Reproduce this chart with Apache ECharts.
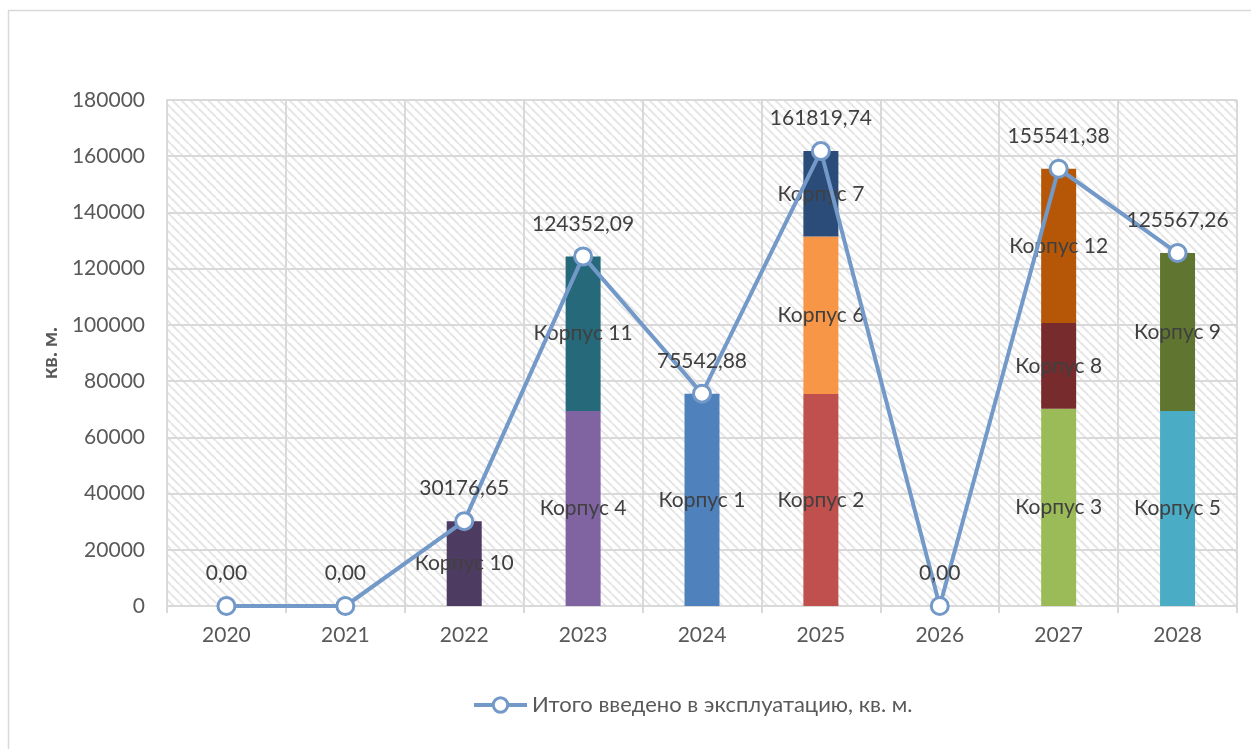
<!DOCTYPE html>
<html>
<head>
<meta charset="utf-8">
<script src="https://cdn.jsdelivr.net/npm/echarts@6/dist/echarts.min.js"></script>
<style>
html,body{margin:0;padding:0;background:#fff;}
#c{width:1251px;height:749px;}
</style>
</head>
<body>
<div id="c"></div>
<script>
// ---- data ----
const years = ['2020','2021','2022','2023','2024','2025','2026','2027','2028'];
const totals = [0, 0, 30176.65, 124352.09, 75542.88, 161819.74, 0, 155541.38, 125567.26];
const lineName = 'Итого введено в эксплуатацию, кв. м.';
// stacked building segments (bottom to top order)
const buildingNames = ['Корпус 10','Корпус 4','Корпус 1','Корпус 2','Корпус 3','Корпус 5',
                       'Корпус 11','Корпус 6','Корпус 8','Корпус 9',
                       'Корпус 7','Корпус 12'];
const buildingYears = ['2022','2023','2024','2025','2027','2028',
                       '2023','2025','2027','2028',
                       '2025','2027'];
const buildingAreas = [30176.65, 69370, 75542.88, 75450, 70200, 69370,
                       54982.09, 55950, 30470, 56197.26,
                       30419.74, 54871.38];
const buildingColors = ['#4D3B62','#8064A2','#4F81BD','#C0504D','#9BBB59','#4BACC6',
                        '#25697A','#F79646','#772B2C','#5F7530',
                        '#2B4C78','#B65708'];
const yTicks = {min:0, max:180000, interval:20000};

// ---- hatch pattern ----
const T = 9;
const pc = document.createElement('canvas');
pc.width = T; pc.height = T;
const ctx = pc.getContext('2d');
ctx.fillStyle = '#ffffff';
ctx.fillRect(0,0,T,T);
ctx.strokeStyle = '#E6E6E6';
ctx.lineWidth = 2;
for (const k of [-T, 0, T]) {
  ctx.beginPath();
  ctx.moveTo(k, 0);
  ctx.lineTo(k + T, T);
  ctx.stroke();
}

const FONT = 'Lato';
const LINE_COLOR = '#7399C9';
const chart = echarts.init(document.getElementById('c'), null, {renderer:'canvas'});

const series = buildingNames.map((name, i) => ({
  name: name,
  type: 'bar',
  stack: 'total',
  barWidth: 35,
  data: years.map(y => y === buildingYears[i] ? buildingAreas[i] : null),
  itemStyle: {color: buildingColors[i]},
  label: {
    show: true,
    position: 'inside',
    formatter: name,
    color: '#404040',
    fontFamily: FONT,
    fontSize: 21
  },
  z: 2
}));

series.push({
  name: lineName,
  type: 'line',
  data: totals,
  symbol: 'circle',
  symbolSize: 17,
  lineStyle: {color: LINE_COLOR, width: 4},
  itemStyle: {color: '#ffffff', borderColor: LINE_COLOR, borderWidth: 3},
  label: {
    show: true,
    position: 'top',
    distance: 12,
    color: '#404040',
    fontFamily: FONT,
    fontSize: 21,
    formatter: p => p.value.toFixed(2).replace('.', ',')
  },
  z: 5
});

chart.setOption({
  animation: false,
  backgroundColor: '#ffffff',
  textStyle: {fontFamily: FONT},
  graphic: [{
    type: 'rect',
    shape: {x: 8.5, y: 10.5, width: 1300, height: 800},
    style: {fill: 'none', stroke: '#D9D9D9', lineWidth: 1.5},
    silent: true,
    z: -10
  }],
  grid: {
    left: 167, right: 14, top: 100, bottom: 143,
    show: true,
    backgroundColor: {image: pc, repeat: 'repeat'},
    borderWidth: 0
  },
  legend: {
    data: [lineName],
    left: 472,
    top: 694,
    padding: 0,
    itemWidth: 53,
    itemHeight: 18,
    itemGap: 6,
    lineStyle: {width: 4, color: LINE_COLOR},
    itemStyle: {color: '#ffffff', borderColor: LINE_COLOR, borderWidth: 3},
    textStyle: {color: '#595959', fontFamily: FONT, fontSize: 22}
  },
  xAxis: {
    type: 'category',
    data: years,
    boundaryGap: true,
    axisLine: {show: true, lineStyle: {color: '#D9D9D9', width: 2}},
    axisTick: {show: true, length: 7, lineStyle: {color: '#D9D9D9', width: 2}},
    splitLine: {show: true, lineStyle: {color: '#D9D9D9', width: 2}},
    axisLabel: {color: '#595959', fontFamily: FONT, fontSize: 21, margin: 19}
  },
  yAxis: {
    type: 'value',
    min: yTicks.min, max: yTicks.max, interval: yTicks.interval,
    name: 'кв. м.',
    nameLocation: 'middle',
    nameGap: 98,
    nameTextStyle: {color: '#595959', fontFamily: FONT, fontSize: 21, fontWeight: 'bold'},
    axisLine: {show: true, lineStyle: {color: '#D9D9D9', width: 2}},
    axisTick: {show: false},
    splitLine: {show: true, lineStyle: {color: '#D9D9D9', width: 2}},
    axisLabel: {color: '#595959', fontFamily: FONT, fontSize: 21, margin: 22,
                formatter: v => String(v)}
  },
  series: series
});
</script>
</body>
</html>
